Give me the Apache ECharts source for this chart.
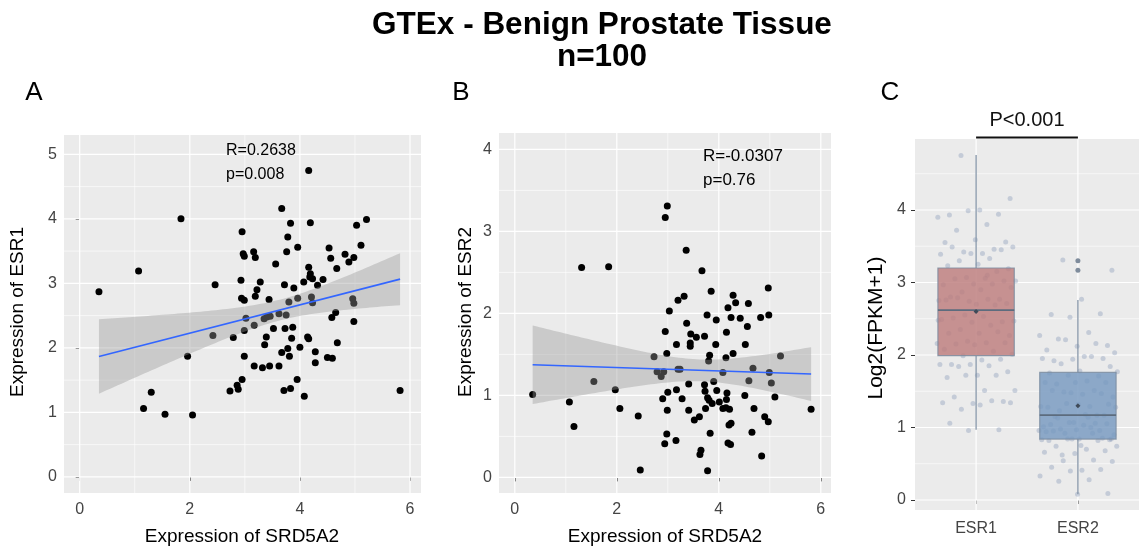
<!DOCTYPE html>
<html>
<head>
<meta charset="utf-8">
<script src="https://cdn.jsdelivr.net/npm/echarts@6/dist/echarts.min.js"></script>
<style>
html, body { margin: 0; padding: 0; background: #fff; }
#chart { width: 1139px; height: 550px; }
</style>
</head>
<body>
<div id="chart"></div>
<script>
// panel A: SRD5A2 vs ESR1
var srdA = [4.16, 3.67, 1.84, 3.83, 4.19, 5.21, 5.03, 2.95, 3.78, 3.96,
            5.11, 4.53, 2.97, 2.99, 3.16, 3.19, 3.76, 4.82, 4.98, 4.56,
            4.89, 3.56, 1.07, 4.16, 4.67, 4.19, 4.23, 4.07, 4.42, 2.93,
            3.28, 3.72, 4.32, 2.46, 0.35, 3.89, 3.22, 3.19, 2.94, 2.99,
            3.44, 3.96, 4.21, 3.80, 4.23, 4.96, 4.98, 4.65, 4.58, 3.62,
            3.75, 3.02, 3.35, 3.46, 4.98, 3.17, 2.99, 3.52, 3.73, 3.87,
            2.42, 2.79, 3.39, 3.85, 4.14, 4.16, 4.68, 3.36, 3.78, 4.00,
            3.67, 3.81, 4.28, 1.96, 2.99, 4.50, 4.59, 4.28, 3.17, 3.32,
            3.45, 3.62, 2.95, 3.95, 2.86, 2.88, 2.73, 3.71, 3.83, 4.08,
            5.82, 1.30, 1.16, 1.55, 2.05, 3.40, 4.18];
var esr1 = [4.75, 4.16, 4.00, 3.93, 3.94, 3.99, 3.90, 3.80, 3.72, 3.56,
            3.59, 3.55, 3.46, 3.42, 3.49, 3.40, 3.49, 3.45, 3.40, 3.39,
            3.33, 3.30, 3.19, 3.25, 3.23, 3.15, 3.07, 3.02, 3.06, 3.05,
            3.02, 2.98, 2.97, 2.98, 2.87, 2.93, 2.90, 2.80, 2.77, 2.74,
            2.75, 2.77, 2.79, 2.71, 2.70, 2.76, 2.69, 2.55, 2.47, 2.53,
            2.51, 2.46, 2.45, 2.49, 2.41, 2.35, 2.27, 2.30, 2.30, 2.32,
            2.19, 2.16, 2.17, 2.15, 2.17, 2.14, 2.08, 2.05, 1.99, 2.01,
            1.93, 1.87, 1.94, 1.87, 1.87, 1.85, 1.84, 1.77, 1.72, 1.69,
            1.72, 1.72, 1.51, 1.51, 1.42, 1.36, 1.33, 1.34, 1.37, 1.25,
            1.34, 1.31, 1.06, 0.97, 0.96, 2.48, 3.10];

// panel B: SRD5A2 vs ESR2
var srdB = [2.99, 2.95, 3.36, 1.31, 1.84, 3.67, 3.85, 4.97, 4.28, 4.33,
            4.58, 4.18, 3.20, 3.32, 3.03, 3.77, 3.95, 4.24, 4.42, 4.82,
            4.98, 3.37, 4.56, 2.95, 3.45, 3.56, 3.72, 4.15, 3.44, 3.44,
            3.17, 3.94, 4.52, 2.98, 3.82, 3.80, 4.14, 4.28, 2.73, 5.21,
            2.79, 2.92, 2.87, 3.20, 3.24, 4.08, 3.90, 4.67, 4.99, 4.59,
            5.03, 1.55, 1.97, 0.35, 1.07, 1.16, 2.06, 2.42, 3.00, 2.90,
            3.17, 3.28, 3.41, 3.72, 3.73, 3.78, 3.81, 3.96, 4.01, 3.87,
            4.16, 4.15, 4.14, 4.08, 4.21, 4.51, 5.10, 5.81, 4.69, 2.99,
            3.41, 3.74, 3.62, 3.52, 4.90, 4.97, 4.20, 4.24, 4.65, 3.83,
            2.98, 2.94, 3.16, 4.18, 4.23, 3.65, 3.63, 4.84, 2.46, 3.78];
var esr2 = [3.31, 3.17, 2.77, 2.56, 2.57, 2.52, 2.27, 2.31, 2.22, 2.13,
            2.12, 2.07, 2.16, 2.21, 2.03, 1.98, 1.92, 1.95, 1.94, 1.95,
            1.98, 1.88, 1.84, 1.78, 1.75, 1.71, 1.72, 1.77, 1.64, 1.60,
            1.62, 1.62, 1.62, 1.51, 1.49, 1.42, 1.46, 1.51, 1.47, 1.48,
            1.29, 1.29, 1.23, 1.32, 1.32, 1.28, 1.17, 1.33, 1.28, 1.18,
            1.15, 1.17, 1.07, 1.01, 0.92, 0.62, 0.84, 0.75, 1.04, 0.96,
            1.07, 0.96, 1.14, 1.13, 1.05, 0.97, 0.94, 1.06, 0.92, 0.90,
            1.03, 0.95, 0.85, 0.84, 0.83, 1.00, 0.98, 0.83, 0.84, 0.82,
            0.82, 0.84, 0.74, 0.70, 0.74, 0.68, 0.64, 0.66, 0.55, 0.54,
            0.53, 0.41, 0.45, 0.42, 0.40, 0.33, 0.28, 0.26, 0.09, 0.08];

// panel C: boxplots [min, Q1, median, Q3, max]
var boxCats = ['ESR1', 'ESR2'];
var esr1Box = [0.97, 1.99, 2.62, 3.20, 4.76];
var esr2Box = [0.08, 0.84, 1.17, 1.76, 2.76];
var boxMeans = [2.60, 1.30];
var esr2Outliers = [3.30, 3.17];

var statsA = ['R=0.2638', 'p=0.008'];
var statsB = ['R=-0.0307', 'p=0.76'];
var pLabel = 'P<0.001';

var xTicks = [0, 2, 4, 6];
var yTicksA = [0, 1, 2, 3, 4, 5];
var yTicksB = [0, 1, 2, 3, 4];
var yTicksC = [0, 1, 2, 3, 4];
var catTicks = [1, 2];

var FONT = "'Liberation Sans', Arial, Helvetica, sans-serif";

var chart = echarts.init(document.getElementById('chart'));

function linearFit(xs, ys) {
    var n = xs.length, mx = 0, my = 0, i;
    for (i = 0; i < n; i++) { mx += xs[i]; my += ys[i]; }
    mx /= n; my /= n;
    var sxx = 0, sxy = 0;
    for (i = 0; i < n; i++) {
        sxx += (xs[i] - mx) * (xs[i] - mx);
        sxy += (xs[i] - mx) * (ys[i] - my);
    }
    var b = sxy / sxx, a = my - b * mx;
    var sse = 0;
    for (i = 0; i < n; i++) {
        var r = ys[i] - (a + b * xs[i]);
        sse += r * r;
    }
    var s = Math.sqrt(sse / (n - 2));
    var t = 1.984;
    var lo = Math.min.apply(null, xs), hi = Math.max.apply(null, xs);
    var upper = [], lower = [];
    for (var k = 0; k <= 80; k++) {
        var x = lo + (hi - lo) * k / 80;
        var f = a + b * x;
        var se = s * Math.sqrt(1 / n + (x - mx) * (x - mx) / sxx);
        upper.push([x, f + t * se]);
        lower.push([x, f - t * se]);
    }
    return { line: [[lo, a + b * lo], [hi, a + b * hi]], upper: upper, lower: lower };
}

// white ggplot-style grid lines, majors on ticks and minors half way
function gridData(xt, yt, xr, yr, xMinor) {
    var out = [];
    function add(ticks, range, dir, minor) {
        var step = ticks[1] - ticks[0];
        ticks.forEach(function (t) {
            out.push([t, dir, 1]);
            if (minor) {
                [t - step / 2, t + step / 2].forEach(function (m) {
                    if (m > range[0] && m < range[1] && !out.some(function (o) { return o[1] === dir && Math.abs(o[0] - m) < 1e-6; })) {
                        out.push([m, dir, 0]);
                    }
                });
            }
        });
    }
    add(xt, xr, 0, xMinor);
    add(yt, yr, 1, true);
    return out;
}

function gridLineItem(params, api) {
    var cs = params.coordSys;
    var v = api.value(0), vertical = api.value(1) === 0, major = api.value(2) === 1;
    var shape;
    if (vertical) {
        var px = api.coord([v, 1])[0];
        shape = { x1: px, y1: cs.y, x2: px, y2: cs.y + cs.height };
    } else {
        var py = api.coord([1, v])[1];
        shape = { x1: cs.x, y1: py, x2: cs.x + cs.width, y2: py };
    }
    return { type: 'line', shape: shape, silent: true,
        style: { stroke: '#ffffff', lineWidth: major ? 1.2 : 0.6 } };
}

function bandItem(fit) {
    return function (params, api) {
        var pts = [];
        fit.upper.forEach(function (p) { pts.push(api.coord(p)); });
        fit.lower.slice().reverse().forEach(function (p) { pts.push(api.coord(p)); });
        return { type: 'polygon', shape: { points: pts }, silent: true,
            style: { fill: 'rgba(153,153,153,0.4)' } };
    };
}

function pair(xs, ys) {
    return xs.map(function (x, i) { return [x, ys[i]]; });
}

function valueAxis(idx, min, max, ticks, margin, size, fmt) {
    return {
        type: 'value', gridIndex: idx, min: min, max: max,
        splitLine: { show: false },
        axisLine: { show: false },
        axisTick: { show: true, length: 4, customValues: ticks, lineStyle: { color: '#333333', width: 1 } },
        axisLabel: { customValues: ticks, color: '#444444', fontSize: size, fontFamily: FONT, margin: margin,
            formatter: fmt }
    };
}

var fitA = linearFit(srdA, esr1);
var fitB = linearFit(srdB, esr2);

// jitter offsets for the box panel (golden-ratio sequence, width 0.4 like geom_jitter)
function jitter(vals, center) {
    return vals.map(function (v, i) {
        var f = (i * 0.6180339887 + 0.31) % 1;
        return [center + (f - 0.5) * 0.78, v];
    });
}

var xRangeA = [-0.285, 6.2], yRangeA = [-0.25, 5.30];
var xRangeB = [-0.31, 6.2], yRangeB = [-0.19, 4.2];
var xRangeC = [0.4, 2.6], yRangeC = [-0.138, 4.979];

function boxItem(params, api) {
    var c = api.value(0);
    var lo = api.value(1), q1 = api.value(2), med = api.value(3), q3 = api.value(4), hi = api.value(5);
    var half = 0.375;
    var pLo = api.coord([c, lo]), pQ1 = api.coord([c, q1]), pMed = api.coord([c, med]);
    var pQ3 = api.coord([c, q3]), pHi = api.coord([c, hi]);
    var left = api.coord([c - half, q1])[0], right = api.coord([c + half, q1])[0];
    var fill = c === 1 ? '#bd7d7c' : '#7698c0';
    var edge = '#7b8ca0';
    return {
        type: 'group',
        children: [
            { type: 'line', shape: { x1: pLo[0], y1: pLo[1], x2: pQ1[0], y2: pQ1[1] }, style: { stroke: edge, lineWidth: 1.2 } },
            { type: 'line', shape: { x1: pQ3[0], y1: pQ3[1], x2: pHi[0], y2: pHi[1] }, style: { stroke: edge, lineWidth: 1.2 } },
            { type: 'rect', shape: { x: left, y: pQ3[1], width: right - left, height: pQ1[1] - pQ3[1] },
              style: { fill: fill, opacity: 0.82, stroke: edge, lineWidth: 1.2 } },
            { type: 'line', shape: { x1: left, y1: pMed[1], x2: right, y2: pMed[1] }, style: { stroke: '#5d6c7e', lineWidth: 1.8 } }
        ]
    };
}

function pBarItem(params, api) {
    var a = api.coord([1, 5.0]), b = api.coord([2, 5.0]);
    var t = api.coord([1.5, 5.24]);
    return {
        type: 'group',
        children: [
            { type: 'line', shape: { x1: a[0], y1: a[1], x2: b[0], y2: b[1] }, style: { stroke: '#111', lineWidth: 2 } },
            { type: 'text', x: t[0], y: t[1], style: { text: pLabel, font: '20px ' + FONT, fill: '#111', align: 'center', verticalAlign: 'middle' } }
        ]
    };
}

function txt(text, x, y, size, opts) {
    opts = opts || {};
    return {
        type: 'text', x: x, y: y, z: 100, rotation: opts.rot || 0, silent: true,
        style: { text: text, font: (opts.bold ? 'bold ' : '') + size + 'px ' + FONT, fill: '#000',
            align: opts.align || 'center', verticalAlign: 'middle' }
    };
}

var option = {
    animation: false,
    backgroundColor: '#ffffff',
    grid: [
        { left: 64, top: 135, width: 357, height: 358, show: true, backgroundColor: '#ebebeb', borderWidth: 0 },
        { left: 499, top: 133, width: 332, height: 360, show: true, backgroundColor: '#ebebeb', borderWidth: 0 },
        { left: 915, top: 139, width: 227, height: 371, show: true, backgroundColor: '#ebebeb', borderWidth: 0 }
    ],
    xAxis: [
        valueAxis(0, xRangeA[0], xRangeA[1], xTicks, 9, 16),
        valueAxis(1, xRangeB[0], xRangeB[1], xTicks, 9, 16),
        valueAxis(2, xRangeC[0], xRangeC[1], catTicks, 11, 16, function (v) { return boxCats[Math.round(v) - 1]; })
    ],
    yAxis: [
        valueAxis(0, yRangeA[0], yRangeA[1], yTicksA, 7, 16),
        valueAxis(1, yRangeB[0], yRangeB[1], yTicksB, 7, 16),
        valueAxis(2, yRangeC[0], yRangeC[1], yTicksC, 9, 16)
    ],
    graphic: [
        txt('GTEx - Benign Prostate Tissue', 602, 25, 31.5, { bold: true }),
        txt('n=100', 602, 57, 31.5, { bold: true }),
        txt('A', 34, 93, 26),
        txt('B', 461, 93, 26),
        txt('C', 890, 93, 26),
        txt('Expression of SRD5A2', 242, 537, 19),
        txt('Expression of SRD5A2', 665, 537, 19),
        txt('Expression of ESR1', 18, 312, 19, { rot: Math.PI / 2 }),
        txt('Expression of ESR2', 466, 312, 19, { rot: Math.PI / 2 }),
        txt('Log2(FPKM+1)', 876, 328, 21, { rot: Math.PI / 2 }),
        txt(statsA[0], 226, 151, 16, { align: 'left' }),
        txt(statsA[1], 226, 175, 16, { align: 'left' }),
        txt(statsB[0], 703, 156, 17, { align: 'left' }),
        txt(statsB[1], 703, 180, 17, { align: 'left' })
    ],
    series: [
        // grid lines
        { type: 'custom', xAxisIndex: 0, yAxisIndex: 0, z: 1, silent: true, renderItem: gridLineItem,
          data: gridData(xTicks, yTicksA, xRangeA, yRangeA, true) },
        { type: 'custom', xAxisIndex: 1, yAxisIndex: 1, z: 1, silent: true, renderItem: gridLineItem,
          data: gridData(xTicks, yTicksB, xRangeB, yRangeB, true) },
        { type: 'custom', xAxisIndex: 2, yAxisIndex: 2, z: 1, silent: true, renderItem: gridLineItem,
          data: gridData(catTicks, yTicksC, xRangeC, yRangeC, false) },

        // panel A
        { type: 'scatter', xAxisIndex: 0, yAxisIndex: 0, z: 2, symbolSize: 7,
          itemStyle: { color: '#000000', opacity: 1 }, data: pair(srdA, esr1) },
        { type: 'custom', xAxisIndex: 0, yAxisIndex: 0, z: 3, silent: true, renderItem: bandItem(fitA),
          data: [fitA.line[0]] },
        { type: 'line', xAxisIndex: 0, yAxisIndex: 0, z: 4, silent: true, showSymbol: false,
          lineStyle: { color: '#3366ff', width: 1.6 }, data: fitA.line },

        // panel B
        { type: 'scatter', xAxisIndex: 1, yAxisIndex: 1, z: 2, symbolSize: 7,
          itemStyle: { color: '#000000', opacity: 1 }, data: pair(srdB, esr2) },
        { type: 'custom', xAxisIndex: 1, yAxisIndex: 1, z: 3, silent: true, renderItem: bandItem(fitB),
          data: [fitB.line[0]] },
        { type: 'line', xAxisIndex: 1, yAxisIndex: 1, z: 4, silent: true, showSymbol: false,
          lineStyle: { color: '#3366ff', width: 1.6 }, data: fitB.line },

        // panel C
        { type: 'scatter', xAxisIndex: 2, yAxisIndex: 2, z: 2, symbolSize: 5,
          itemStyle: { color: 'rgba(115,138,175,0.32)', opacity: 1 }, data: jitter(esr1, 1).concat(jitter(esr2, 2)) },
        { type: 'custom', xAxisIndex: 2, yAxisIndex: 2, z: 3, silent: true, renderItem: boxItem,
          data: [[1].concat(esr1Box), [2].concat(esr2Box)] },
        { type: 'scatter', xAxisIndex: 2, yAxisIndex: 2, z: 4, symbolSize: 5,
          itemStyle: { color: '#7f8c9c', opacity: 1 }, data: esr2Outliers.map(function (v) { return [2, v]; }) },
        { type: 'scatter', xAxisIndex: 2, yAxisIndex: 2, z: 4, symbolSize: 5, symbol: 'diamond',
          itemStyle: { color: '#3f4a58', opacity: 1 }, data: boxMeans.map(function (v, i) { return [i + 1, v]; }) },
        { type: 'custom', xAxisIndex: 2, yAxisIndex: 2, z: 4, silent: true, renderItem: pBarItem, data: [[1.5, 5]] }
    ]
};

chart.setOption(option);
</script>
</body>
</html>
